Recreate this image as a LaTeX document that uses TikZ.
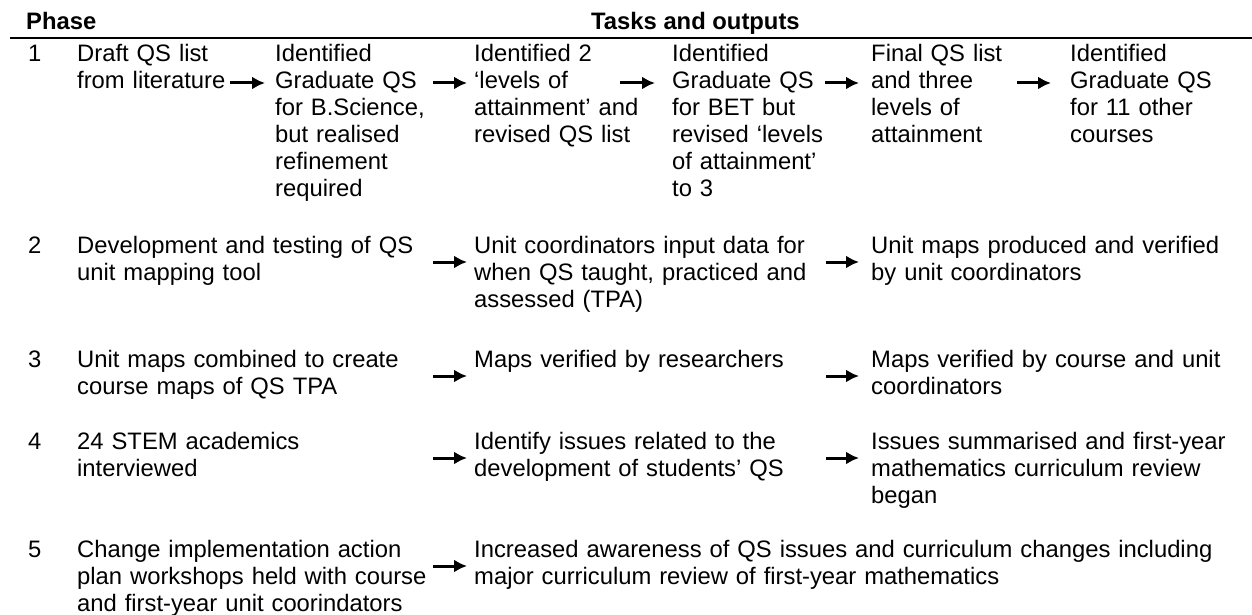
\documentclass[tikz,border=0pt]{standalone}
\usepackage{fontspec}
\setmainfont{Liberation Sans}
\usetikzlibrary{calc}
\usetikzlibrary{arrows.meta,positioning}
\newcommand{\txtfont}{\fontsize{23.8}{27}\selectfont}

\begin{document}
\begin{tikzpicture}[x=1pt,y=-1pt,
    txt/.style={anchor=base west,inner sep=0pt,align=left,text width=#1,font=\txtfont},
    txt/.default=190pt,
    head/.style={anchor=base west,inner sep=0pt,font=\txtfont\bfseries},
    go/.style={-{Latex[length=13pt,width=13pt]},line width=3pt}]
        \useasboundingbox (0,0) rectangle (1252,615);
        % header
        \node[head] (ph) at (26,30) {Phase};
        \node[head] (tk) at (591,30) {Tasks and outputs};
        \draw[line width=1.5pt] (10,38) -- (1252,38);
        % phase 1
        \node[txt=30pt] (n1) at (28,62) {1};
        \node[txt] (p1) at (77,62) {Draft QS list\\from literature};
        \node[txt] (t12) at (275,62) {Identified\\Graduate QS\\for B.Science,\\but realised\\refinement\\required};
        \node[txt] (t13) at (474,62) {Identified 2\\‘levels of\\attainment’ and\\revised QS list};
        \node[txt] (t14) at (672,62) {Identified\\Graduate QS\\for BET but\\revised ‘levels\\of attainment’\\to 3};
        \node[txt] (t15) at (871,62) {Final QS list\\and three\\levels of\\attainment};
        \node[txt] (t16) at (1070,62) {Identified\\Graduate QS\\for 11 other\\courses};
        \foreach \i/\s/\e in {1/230/265,2/433/467,3/620/655,4/825/859,5/1017/1051}{
          \coordinate (s1\i) at (\s,83);
          \coordinate (e1\i) at (\e,83);
          \draw[go] (s1\i) -- (e1\i);
        }
        % phase 2
        \node[txt=30pt] (n2) at (28,253) {2};
        \node[txt=360pt] (p2) at (77,253) {Development and testing of QS\\unit mapping tool};
        \node[txt=380pt] (t22) at (474,253) {Unit coordinators input data for\\when QS taught, practiced and\\assessed (TPA)};
        \node[txt=380pt] (t23) at (871,253) {Unit maps produced and verified\\by unit coordinators};
        % phase 3
        \node[txt=30pt] (n3) at (28,367) {3};
        \node[txt=360pt] (p3) at (77,367) {Unit maps combined to create\\course maps of QS TPA};
        \node[txt=380pt] (t32) at (474,367) {Maps verified by researchers};
        \node[txt=380pt] (t33) at (871,367) {Maps verified by course and unit\\coordinators};
        % phase 4
        \node[txt=30pt] (n4) at (28,449) {4};
        \node[txt=360pt] (p4) at (77,449) {24 STEM academics\\interviewed};
        \node[txt=380pt] (t42) at (474,449) {Identify issues related to the\\development of students’ QS};
        \node[txt=380pt] (t43) at (871,449) {Issues summarised and first-year\\mathematics curriculum review\\began};
        % phase 5
        \node[txt=30pt] (n5) at (28,557) {5};
        \node[txt=360pt] (p5) at (77,557) {Change implementation action\\plan workshops held with course\\and first-year unit coorindators};
        \node[txt=780pt] (t52) at (474,557) {Increased awareness of QS issues and curriculum changes including\\major curriculum review of first-year mathematics};
        % arrows of phases 2-5
        \foreach \r/\y in {2/262,3/376,4/458,5/566}{
          \coordinate (s\r1) at (433,\y);
          \coordinate (e\r1) at (467,\y);
          \draw[go] (s\r1) -- (e\r1);
        }
        \foreach \r/\y in {2/262,3/376,4/458}{
          \coordinate (s\r2) at (826,\y);
          \coordinate (e\r2) at (859,\y);
          \draw[go] (s\r2) -- (e\r2);
        }
\end{tikzpicture}
\end{document}
